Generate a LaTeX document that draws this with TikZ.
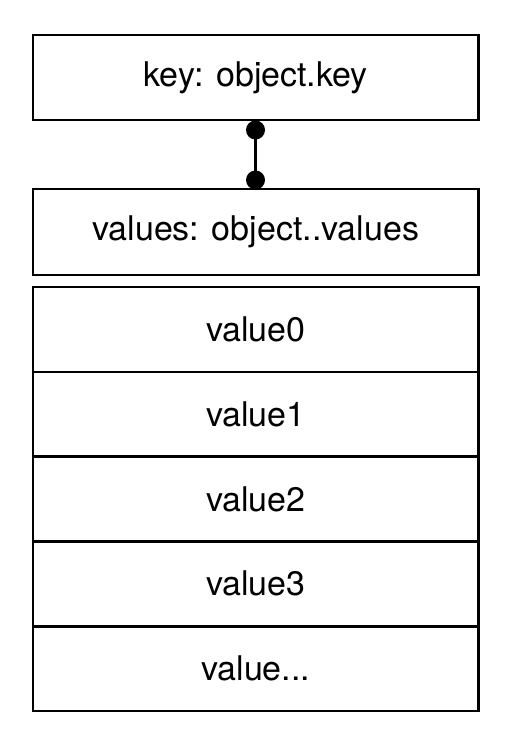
\documentclass[tikz,border=0pt]{standalone}
\usepackage{fontspec}
\setmainfont{TeX Gyre Heros}
\begin{document}
\begin{tikzpicture}[x=1pt,y=-1pt,
  box/.style={draw, line width=2.6pt, minimum width=445.5pt, inner sep=0pt, font=\fontsize{34}{40}\selectfont},
  dotnode/.style={circle, fill=black, minimum size=19pt, inner sep=0pt},
  conn/.style={line width=2.6pt}]
\useasboundingbox (0,0) rectangle (508,743);
\node[box, minimum height=85pt] (key) at (255.75,77.5) {key: object.key};
\node[box, minimum height=86pt] (vals) at (255.75,232) {values: object..values};
\node[box, minimum height=84.8pt] (v0) at (255.75,329.4) {value0};
\node[box, minimum height=84.8pt] (v1) at (255.75,414.2) {value1};
\node[box, minimum height=84.8pt] (v2) at (255.75,499.0) {value2};
\node[box, minimum height=84.8pt] (v3) at (255.75,583.8) {value3};
\node[box, minimum height=84.8pt] (v4) at (255.75,668.6) {value...};
\node[dotnode] (d1) at (255.5,130) {};
\node[dotnode] (d2) at (255.5,180) {};
\draw[conn] (d1.center) -- (d2.center);
\end{tikzpicture}
\end{document}
